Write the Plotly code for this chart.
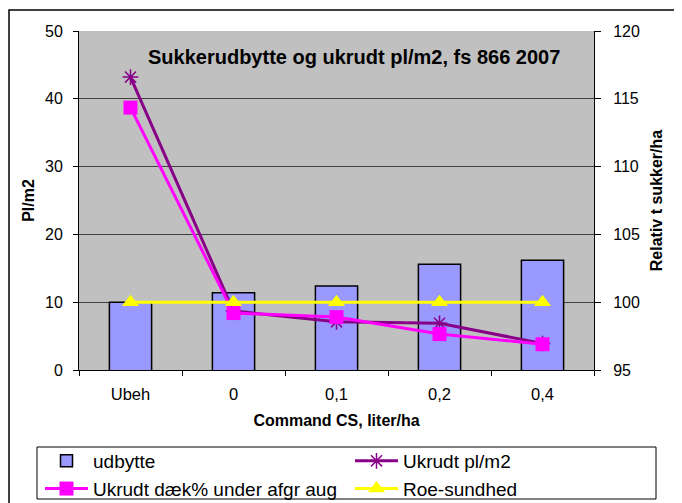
import plotly.graph_objects as go

categories = ["Ubeh", "0", "0,1", "0,2", "0,4"]
udbytte = [100.0, 100.7, 101.2, 102.8, 103.1]          # Relativ t sukker/ha (right axis)
ukrudt_pl = [43.2, 8.7, 7.1, 6.9, 3.9]                 # Pl/m2 (left axis)
ukrudt_daek = [38.7, 8.4, 7.8, 5.3, 3.8]               # left axis
roe_sundhed = [10, 10, 10, 10, 10]                     # left axis

FONT = "Liberation Sans, Arial, sans-serif"
PURPLE = "#880088"
MAGENTA = "#FF00FF"
YELLOW = "#FFFF00"

fig = go.Figure()
fig.add_trace(go.Bar(
    x=categories, y=udbytte, name="udbytte", yaxis="y2",
    marker=dict(color="#9999FF", line=dict(color="black", width=1.5)),
    legend="legend"))
fig.add_trace(go.Scatter(
    x=categories, y=ukrudt_pl, name="Ukrudt pl/m2", yaxis="y",
    mode="lines+markers", line=dict(color=PURPLE, width=3),
    marker=dict(symbol="asterisk-open", size=13, color=PURPLE,
                line=dict(color=PURPLE, width=1.5)),
    legend="legend2"))
fig.add_trace(go.Scatter(
    x=categories, y=ukrudt_daek, name="Ukrudt dæk% under afgr aug", yaxis="y",
    mode="lines+markers", line=dict(color=MAGENTA, width=3),
    marker=dict(symbol="square", size=14, color=MAGENTA),
    legend="legend"))
fig.add_trace(go.Scatter(
    x=categories, y=roe_sundhed, name="Roe-sundhed", yaxis="y",
    mode="lines+markers", line=dict(color=YELLOW, width=3),
    marker=dict(symbol="triangle-up", size=15, color=YELLOW),
    legend="legend2"))

# page is shown with an 8px body margin -> figure origin at page (8, 8)
OFF = 8
W, H = 682, 503
PL, PR, PT, PB = 79, 594, 31, 370        # plot area in page pixels
pw, ph = PR - PL, PB - PT
L = PL - OFF
T = PT - OFF
R = W - L - pw
B = H - T - ph

def px_x(p):
    return (p - PL) / pw

def px_y(p):
    return (PB - p) / ph

legend_common = dict(
    xanchor="left", yanchor="top", bgcolor="rgba(0,0,0,0)", borderwidth=0,
    font=dict(family=FONT, size=19, color="black"), itemwidth=43,
    tracegroupgap=0, orientation="v")

fig.update_layout(
    width=W, height=H,
    margin=dict(l=L, r=R, t=T, b=B, autoexpand=False),
    paper_bgcolor="white", plot_bgcolor="#C0C0C0",
    font=dict(family=FONT, color="black"),
    bargap=0.59,
    xaxis=dict(
        type="category", tickson="boundaries", ticks="outside", ticklen=5,
        tickcolor="black", showline=True, linecolor="black", linewidth=1,
        showgrid=False, tickfont=dict(size=16.5), ticklabelstandoff=9,
        title=dict(text="Command CS, liter/ha", standoff=13,
                   font=dict(size=16, weight="bold"))),
    yaxis=dict(
        range=[0, 50], dtick=10, overlaying="y2", side="left",
        showgrid=False, zeroline=False, showline=True, linecolor="black",
        ticks="outside", ticklen=5, tickcolor="black",
        tickfont=dict(size=16), ticklabelstandoff=7,
        title=dict(text="Pl/m2", standoff=6, font=dict(size=16, weight="bold"))),
    yaxis2=dict(
        range=[95, 120], dtick=5, side="right",
        showgrid=True, gridcolor="#404040", gridwidth=1, zeroline=False,
        showline=True, linecolor="black", ticks="outside", ticklen=6,
        tickcolor="black", tickfont=dict(size=16), ticklabelstandoff=9,
        title=dict(text="Relativ t sukker/ha", standoff=11,
                   font=dict(size=16, weight="bold"))),
    legend=dict(x=px_x(40), y=px_y(442), **legend_common),
    legend2=dict(x=px_x(350), y=px_y(442), **legend_common),
    showlegend=True,
    annotations=[dict(
        text="Sukkerudbytte og ukrudt pl/m2, fs 866 2007",
        xref="paper", yref="paper", x=px_x(354), y=px_y(57),
        xanchor="center", yanchor="middle", showarrow=False,
        font=dict(family=FONT, size=20, weight="bold", color="black"))],
    shapes=[
        dict(type="rect", xref="paper", yref="paper",
             x0=px_x(9), x1=px_x(720), y0=px_y(540), y1=px_y(10),
             line=dict(color="black", width=1.5), fillcolor="rgba(0,0,0,0)"),
        dict(type="rect", xref="paper", yref="paper",
             x0=px_x(37), x1=px_x(656), y0=px_y(499), y1=px_y(447),
             line=dict(color="black", width=1), fillcolor="rgba(0,0,0,0)"),
    ],
)

fig.write_html("out.html")
